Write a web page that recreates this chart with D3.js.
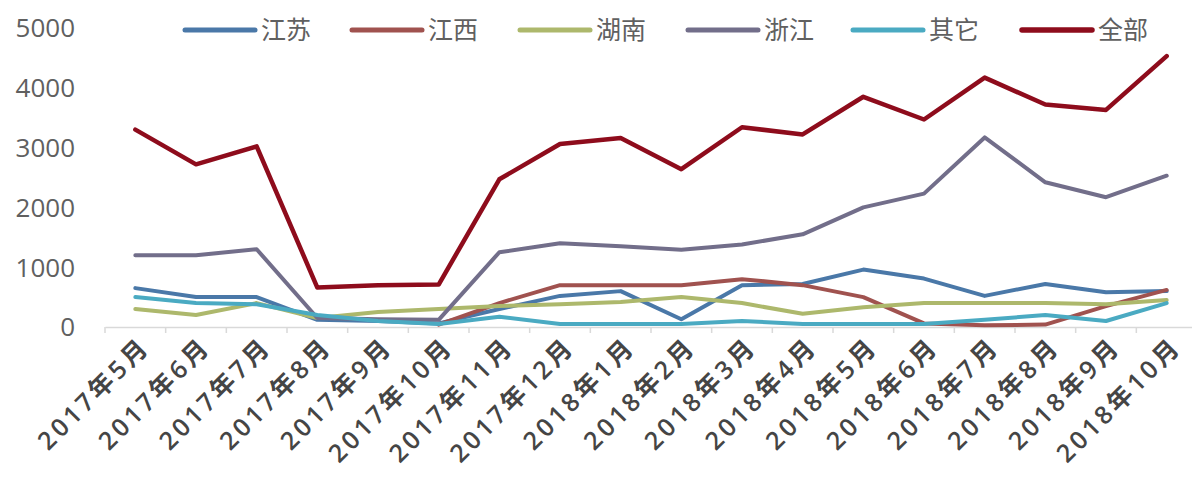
<!DOCTYPE html>
<html><head><meta charset="utf-8">
<script src="https://cdn.jsdelivr.net/npm/d3@7/dist/d3.min.js"></script>
<style>
html,body{margin:0;padding:0;background:#fff;}
svg{display:block;}
</style></head>
<body>
<svg id="chart" width="1192" height="478"></svg>
<script>
const months = ["2017年5月","2017年6月","2017年7月","2017年8月","2017年9月","2017年10月","2017年11月","2017年12月","2018年1月","2018年2月","2018年3月","2018年4月","2018年5月","2018年6月","2018年7月","2018年8月","2018年9月","2018年10月"];
const seriesNames = ["江苏","江西","湖南","浙江","其它","全部"];
const jiangsu  = [650, 500, 500, 120, 100, 60, 300, 520, 600, 130, 700, 720, 960, 810, 520, 720, 580, 600];
const jiangxi  = [null, null, null, null, null, 40, 400, 700, 700, 700, 800, 700, 500, 60, 30, 40, 350, 620];
const hunan    = [300, 200, 400, 150, 250, 300, 350, 380, 420, 500, 400, 220, 330, 400, 400, 400, 380, 450];
const zhejiang = [1200, 1200, 1300, 150, 130, 120, 1250, 1400, 1350, 1290, 1380, 1550, 2000, 2230, 3170, 2420, 2170, 2530];
const others   = [500, 400, 380, 200, 100, 50, 170, 50, 50, 50, 100, 50, 50, 50, 120, 200, 100, 400];
const total    = [3300, 2720, 3020, 660, 700, 710, 2470, 3060, 3160, 2640, 3340, 3220, 3850, 3470, 4170, 3720, 3630, 4530];
const yTicks = [0, 1000, 2000, 3000, 4000, 5000];

const colors = ["#4a78a8", "#a0524f", "#adb86c", "#726e8a", "#4aaac2", "#8e0c1c"];
const widths = [4, 4, 4, 4, 4, 4.5];
const data = [jiangsu, jiangxi, hunan, zhejiang, others, total];

const svg = d3.select("#chart");
const x = d3.scaleBand().domain(months).range([105, 1197]);
const y = d3.scaleLinear().domain([0, 5000]).range([327, 28]);

// y labels
svg.append("g").selectAll("text").data(yTicks).join("text")
  .attr("x", 75).attr("y", d => y(d)).attr("dy", "0.36em")
  .attr("text-anchor", "end")
  .attr("font-family", "Open Sans, sans-serif").attr("font-size", 26)
  .attr("fill", "#606060").text(d => d);

// x axis
const xAxis = d3.axisBottom(x).tickSize(0).tickFormat("");
const gx = svg.append("g").attr("transform", "translate(0,327)").call(xAxis);
gx.select(".domain").attr("stroke", "#d9d9d9").attr("stroke-width", 1.5);
svg.append("g").selectAll("line").data(months.map((m,i)=>i)).join("line")
  .attr("x1", i => x.range()[0] + i * x.step()).attr("x2", i => x.range()[0] + i * x.step())
  .attr("y1", 327).attr("y2", 333).attr("stroke", "#d9d9d9").attr("stroke-width", 1.5);

svg.append("g").selectAll("text").data(months).join("text")
  .attr("transform", d => `translate(${x(d) + x.bandwidth()/2 + 10},${342}) rotate(-45)`)
  .attr("text-anchor", "end").attr("dy", "0.35em")
  .attr("font-family", "Open Sans, Noto Sans CJK SC, sans-serif").attr("font-size", 25)
  .attr("letter-spacing", 3.5)
  .attr("font-weight", 600)
  .attr("fill", "#454545").text(d => d);

// lines
const line = d3.line().defined(d => d !== null)
  .x((d,i) => x(months[i]) + x.bandwidth()/2).y(d => y(d));
svg.append("g").selectAll("path").data(data).join("path")
  .attr("d", d => line(d)).attr("fill", "none")
  .attr("stroke", (d,i) => colors[i]).attr("stroke-width", (d,i) => widths[i])
  .attr("stroke-linejoin", "round").attr("stroke-linecap", "round");

// legend
const legendX = [185, 352, 520, 688, 853, 1022];
const lg = svg.append("g").selectAll("g").data(seriesNames).join("g")
  .attr("transform", (d,i) => `translate(${legendX[i]},30)`);
lg.append("line").attr("x1", 0).attr("x2", 70).attr("y1", 0).attr("y2", 0)
  .attr("stroke", (d,i) => colors[i]).attr("stroke-width", (d,i) => i===5 ? 5.5 : 5)
  .attr("stroke-linecap", "round");
lg.append("text").attr("x", 76).attr("y", 0).attr("dy", "0.36em")
  .attr("font-family", "Noto Sans CJK SC, sans-serif").attr("font-size", 25)
  .attr("fill", "#606060").text(d => d);
</script>
</body></html>
